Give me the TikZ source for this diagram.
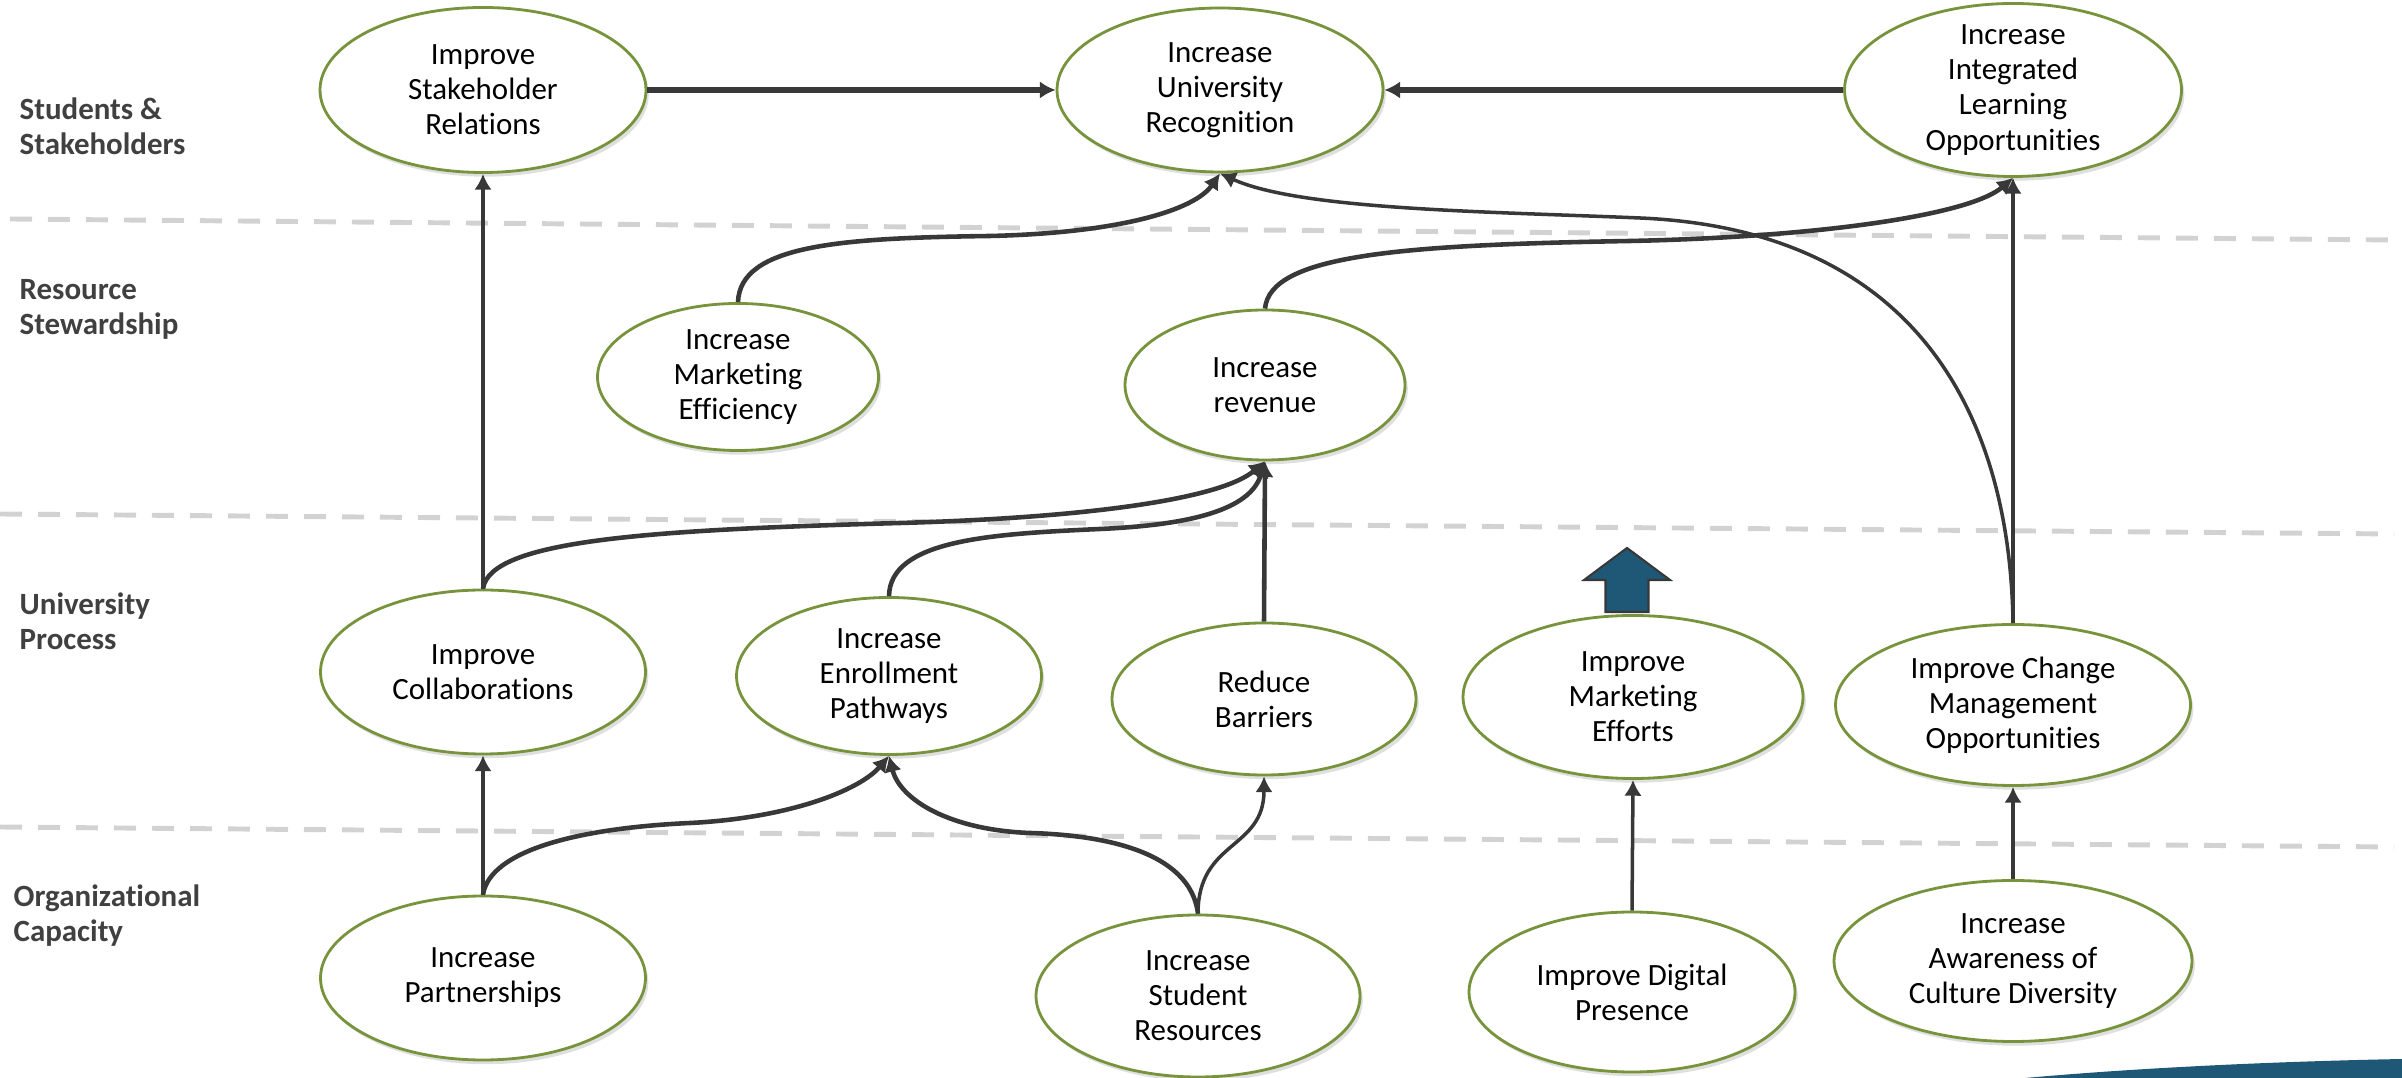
\documentclass[tikz,border=0pt]{standalone}
\usepackage{fontspec}
\setmainfont{Carlito}[Ligatures={NoCommon}]
\usetikzlibrary{shapes.geometric,arrows.meta,shadows}

\definecolor{goalgreen}{RGB}{119,147,60}
\definecolor{linegray}{RGB}{56,56,56}
\definecolor{labelgray}{RGB}{64,64,64}
\definecolor{swooshblue}{RGB}{31,88,118}

\begin{document}
\begin{tikzpicture}[
        goal/.style={ellipse, draw=goalgreen, line width=0.8pt, fill=white, align=center, inner sep=0pt,
            font=\fontsize{8.8}{10}\selectfont,
            drop shadow={shadow xshift=0.8pt, shadow yshift=-1.2pt, opacity=0.25}},
        layer/.style={anchor=west, align=left, inner sep=0pt, text=labelgray, font=\fontsize{8.8}{10}\selectfont\bfseries},
        sep/.style={gray!35, line width=1.4pt, dash pattern=on 0.22cm off 0.16cm},
        link/.style={-{Latex[length=4.5pt,width=5pt]}, draw=linegray, line width=1.3pt},
        thin link/.style={link, line width=1pt}
    ]
        \useasboundingbox (0,0) rectangle (24.02,-10.78);

        % dashed separators
        \draw[sep] (0.1,-2.19) -- (23.94,-2.40);
        \draw[sep] (0.0,-5.14) -- (23.94,-5.34);
        \draw[sep] (0.0,-8.27) -- (23.94,-8.47);

        % perspectives
        \node[layer] (lstud) at (0.19,-1.26) {Students \&\\Stakeholders};
        \node[layer] (lres) at (0.19,-3.09) {Resource\\Stewardship};
        \node[layer] (luni) at (0.19,-6.21) {University\\Process};
        \node[layer] (lorg) at (0.13,-9.16) {Organizational\\Capacity};

        % corner swoosh
        \fill[swooshblue] (20.25,-10.78) .. controls (21.6,-10.66) and (23.0,-10.61) .. (24.02,-10.59) -- (24.02,-10.78) -- cycle;

        % students & stakeholders
        \node[goal, minimum width=3.26cm, minimum height=1.65cm] (isr) at (4.83,-0.90) {Improve\\Stakeholder\\Relations};
        \node[goal, minimum width=3.26cm, minimum height=1.64cm] (iur) at (12.20,-0.90) {Increase\\University\\Recognition};
        \node[goal, minimum width=3.37cm, minimum height=1.73cm, inner ysep=-4pt] (iilo) at (20.13,-0.90) {Increase\\Integrated\\Learning\\Opportunities};

        % resource stewardship
        \node[goal, minimum width=2.81cm, minimum height=1.47cm] (ime) at (7.38,-3.77) {Increase\\Marketing\\Efficiency};
        \node[goal, minimum width=2.80cm, minimum height=1.50cm] (ir) at (12.65,-3.85) {Increase\\revenue};

        % university process
        \node[goal, minimum width=3.25cm, minimum height=1.64cm] (ic) at (4.83,-6.72) {Improve\\Collaborations};
        \node[goal, minimum width=3.05cm, minimum height=1.57cm] (iep) at (8.89,-6.76) {Increase\\Enrollment\\Pathways};
        \node[goal, minimum width=3.04cm, minimum height=1.52cm] (rb) at (12.64,-6.99) {Reduce\\Barriers};
        \node[goal, minimum width=3.40cm, minimum height=1.63cm] (imef) at (16.33,-6.97) {Improve\\Marketing\\Efforts};
        \node[goal, minimum width=3.55cm, minimum height=1.61cm] (icmo) at (20.13,-7.05) {Improve Change\\Management\\Opportunities};

        % organizational capacity
        \node[goal, minimum width=3.25cm, minimum height=1.64cm] (ip) at (4.83,-9.78) {Increase\\Partnerships};
        \node[goal, minimum width=3.24cm, minimum height=1.62cm] (isres) at (11.98,-9.96) {Increase\\Student\\Resources};
        \node[goal, minimum width=3.26cm, minimum height=1.60cm] (idp) at (16.32,-9.92) {Improve Digital\\Presence};
        \node[goal, minimum width=3.58cm, minimum height=1.61cm] (iacd) at (20.13,-9.61) {Increase\\Awareness of\\Culture Diversity};

        % up arrow
        \filldraw[fill=swooshblue, draw=linegray, line width=0.6pt] (16.27,-5.48) -- (16.70,-5.80) -- (16.485,-5.80) -- (16.485,-6.12) -- (16.055,-6.12) -- (16.055,-5.80) -- (15.84,-5.80) -- cycle;

        % recognition
        \draw[link, line width=1.6pt] (isr.east) -- (iur.west);
        \draw[link, line width=1.6pt] (iilo.west) -- (iur.east);
        \draw[link] (ime.north) .. controls (7.40,-2.45) and (8.40,-2.38) .. (9.90,-2.36) .. controls (11.20,-2.33) and (11.95,-2.10) .. (iur.south);
        \draw[thin link] (icmo.north) .. controls (20.10,-4.20) and (19.20,-2.30) .. (16.40,-2.18) .. controls (14.90,-2.116) and (13.00,-2.10) .. (iur.south);
        \draw[link] (ir.north) .. controls (12.70,-2.55) and (14.00,-2.45) .. (16.30,-2.41) .. controls (18.20,-2.37) and (19.70,-2.15) .. (iilo.south);
        \draw[thin link] (icmo.north) -- (iilo.south);
        \draw[thin link] (ic.north) -- (isr.south);

        % revenue
        \draw[link] (ic.north) .. controls (4.90,-5.40) and (6.50,-5.30) .. (9.00,-5.23) .. controls (10.80,-5.18) and (12.20,-5.00) .. (ir.south);
        \draw[link] (iep.north) .. controls (8.90,-5.40) and (9.90,-5.34) .. (11.00,-5.29) .. controls (11.90,-5.25) and (12.50,-5.10) .. (ir.south);
        \draw[link] (rb.north) -- (ir.south);

        % capacity
        \draw[thin link] (ip.north) -- (ic.south);
        \draw[link] (ip.north) .. controls (4.90,-8.50) and (5.80,-8.28) .. (6.90,-8.23) .. controls (7.90,-8.18) and (8.60,-7.90) .. (iep.south);
        \draw[link] (isres.north) .. controls (11.90,-8.50) and (11.00,-8.35) .. (10.30,-8.33) .. controls (9.50,-8.30) and (9.00,-8.00) .. (iep.south);
        \draw[thin link] (isres.north) .. controls (11.98,-8.40) and (12.64,-8.50) .. (rb.south);
        \draw[thin link] (idp.north) -- (imef.south);
        \draw[thin link] (iacd.north) -- (icmo.south);
    \end{tikzpicture}
\end{document}
